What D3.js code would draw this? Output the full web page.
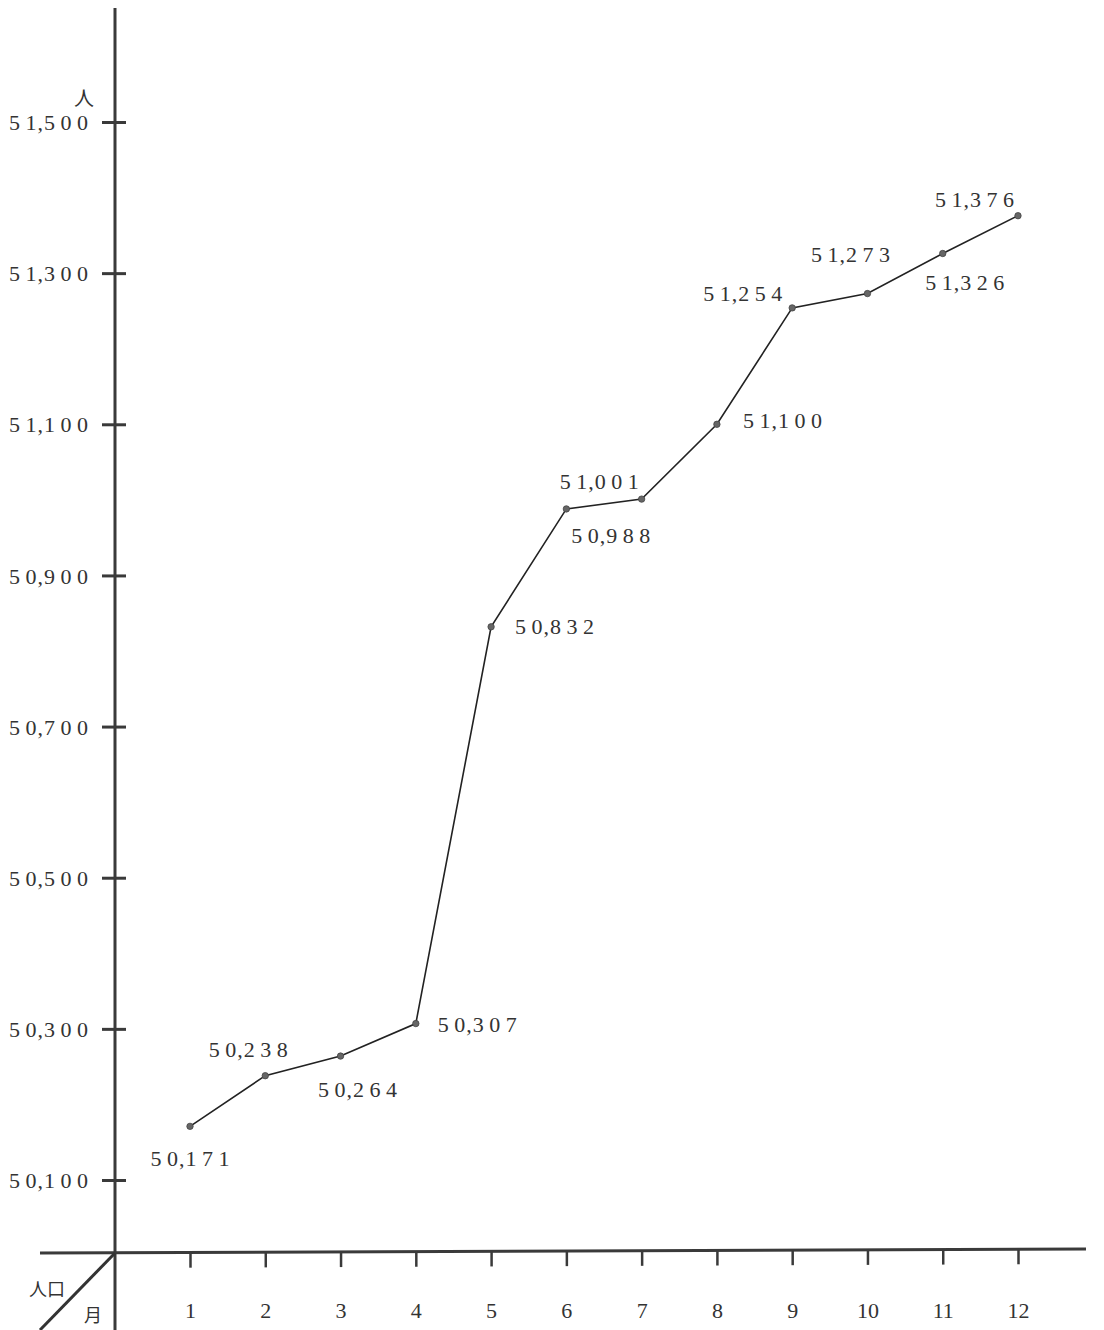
<!DOCTYPE html>
<html>
<head>
<meta charset="utf-8">
<script src="https://cdn.jsdelivr.net/npm/d3@7"></script>
<style>
  html, body { margin: 0; padding: 0; background: #fff; }
  svg text { font-family: "Liberation Serif", "DejaVu Serif", serif; fill: #333; }
  .cjk { font-family: "Noto Sans CJK JP", sans-serif; }
</style>
</head>
<body>
<svg id="chart" width="1104" height="1330"></svg>
<script>
// monthly population, 1..12
const months = [1, 2, 3, 4, 5, 6, 7, 8, 9, 10, 11, 12];
const population = [50171, 50238, 50264, 50307, 50832, 50988, 51001, 51100, 51254, 51273, 51326, 51376];
const yTicks = [50100, 50300, 50500, 50700, 50900, 51100, 51300, 51500];

// where each value label sits relative to its point
const labelPos = [
  [0, 40, "middle"], [-17, -19, "middle"], [17, 41, "middle"], [22, 8, "start"],
  [24, 7, "start"], [5, 34, "start"], [-3, -10, "end"], [26, 4, "start"],
  [-10, -7, "end"], [-17, -32, "middle"], [22, 37, "middle"], [-4, -9, "end"]
];

const svg = d3.select("#chart");
const x0 = 115, y0 = 1253;

const x = d3.scaleLinear().domain([1, 12]).range([190, 1018]);
const y = d3.scaleLinear().domain([50100, 51500]).range([1180, 122]);
const fmt = d3.format(",");

// typewriter style numbers: wide gaps between digits, none around the comma
function spaced(textSel, str) {
  textSel.text(null);
  const chars = str.split("");
  chars.forEach((c, i) => {
    let gap = 0;
    if (i > 0) gap = (c === "," || chars[i - 1] === ",") ? 1 : 5.5;
    textSel.append("tspan").attr("dx", gap).text(c);
  });
}

// axes
svg.append("line").attr("x1", x0).attr("y1", 8).attr("x2", x0).attr("y2", 1330)
  .attr("stroke", "#3a3a3a").attr("stroke-width", 3);
svg.append("line").attr("x1", 40).attr("y1", y0).attr("x2", 1086).attr("y2", y0 - 4)
  .attr("stroke", "#3a3a3a").attr("stroke-width", 3);
svg.append("line").attr("x1", x0).attr("y1", y0).attr("x2", 40).attr("y2", 1330)
  .attr("stroke", "#333").attr("stroke-width", 3);

// y ticks
const yAxis = d3.axisLeft(y).tickValues(yTicks).tickSize(0).tickFormat(fmt);
const gy = svg.append("g").attr("transform", `translate(${x0},0)`).call(yAxis);
gy.select(".domain").remove();
gy.selectAll(".tick text").attr("x", -27).attr("dy", "0.35em")
  .attr("font-size", 22).attr("fill", "#333")
  .attr("font-family", "Liberation Serif, DejaVu Serif, serif")
  .each(function(d) { spaced(d3.select(this), fmt(d)); });
gy.selectAll(".tick").append("line").attr("x1", -13).attr("x2", 11)
  .attr("stroke", "#3a3a3a").attr("stroke-width", 3);

// x ticks
const xAxis = d3.axisBottom(x).tickValues(months).tickSize(0);
const gx = svg.append("g").attr("transform", `translate(0,${y0})`).call(xAxis);
gx.select(".domain").remove();
gx.selectAll(".tick").append("line").attr("y1", 0).attr("y2", 15)
  .attr("transform", d => `translate(0,${-(x(d) - x0) * 4 / 971})`)
  .attr("stroke", "#3a3a3a").attr("stroke-width", 2.5);
gx.selectAll(".tick text").attr("y", 65).attr("dy", 0)
  .attr("font-size", 22).attr("fill", "#333")
  .attr("font-family", "Liberation Serif, DejaVu Serif, serif");

// unit and corner labels
svg.append("text").attr("class", "cjk").attr("x", 84).attr("y", 106)
  .attr("text-anchor", "middle").attr("font-size", 20).text("人");
svg.append("text").attr("class", "cjk").attr("x", 29).attr("y", 1296)
  .attr("font-size", 18).text("人口");
svg.append("text").attr("class", "cjk").attr("x", 84).attr("y", 1322)
  .attr("font-size", 18).text("月");

// line
const pts = months.map((m, i) => [x(m), y(population[i])]);
svg.append("path").attr("d", d3.line()(pts))
  .attr("fill", "none").attr("stroke", "#222").attr("stroke-width", 1.6);

svg.selectAll(".dot").data(pts).enter().append("circle")
  .attr("class", "dot").attr("cx", d => d[0]).attr("cy", d => d[1]).attr("r", 3.2)
  .attr("fill", "#666").attr("stroke", "#444").attr("stroke-width", 0.8);

svg.selectAll(".val").data(population).enter().append("text")
  .attr("class", "val")
  .attr("x", (d, i) => pts[i][0] + labelPos[i][0])
  .attr("y", (d, i) => pts[i][1] + labelPos[i][1])
  .attr("text-anchor", (d, i) => labelPos[i][2])
  .attr("font-size", 22)
  .each(function(d) { spaced(d3.select(this), fmt(d)); });
</script>
</body>
</html>
